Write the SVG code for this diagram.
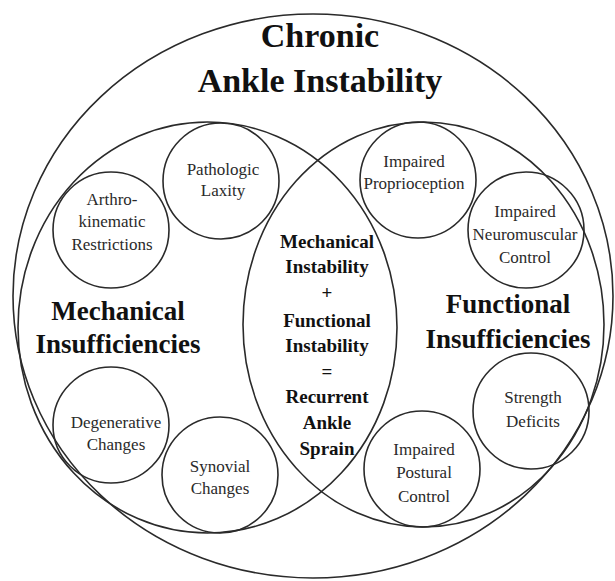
<svg xmlns="http://www.w3.org/2000/svg" width="615" height="581" viewBox="0 0 615 581">
<style>
.ring{fill:none;stroke:#2a2a2a;stroke-width:1.6}
.big{font-weight:bold;fill:#111;text-anchor:middle}
.sm{font-size:17px;fill:#2a2a2a;text-anchor:middle}
.mid{font-weight:bold;font-size:19px;fill:#111;text-anchor:middle}
</style>
<rect width="615" height="581" fill="#fff"/>
<g font-family="Liberation Serif, DejaVu Serif, Times New Roman, serif">
<g id="chronic-ankle-instability">
<ellipse class="ring" cx="313" cy="296" rx="300" ry="282"/>
<text class="big" x="320" y="47" font-size="34">Chronic</text>
<text class="big" x="320" y="92" font-size="34">Ankle Instability</text>
</g>
<g id="mechanical-insufficiencies">
<ellipse class="ring" cx="207.5" cy="327.5" rx="189.5" ry="205.5"/>
<text class="big" x="118" y="320" font-size="27">Mechanical</text>
<text class="big" x="118" y="353" font-size="27">Insufficiencies</text>
</g>
<g id="functional-insufficiencies">
<ellipse class="ring" cx="423.5" cy="324.5" rx="180.5" ry="202.5"/>
<text class="big" x="508" y="313" font-size="27">Functional</text>
<text class="big" x="508" y="348" font-size="27">Insufficiencies</text>
</g>
<g id="overlap">
<text class="mid" x="327" y="248">Mechanical</text>
<text class="mid" x="327" y="273">Instability</text>
<text class="mid" x="327" y="299">+</text>
<text class="mid" x="327" y="327">Functional</text>
<text class="mid" x="327" y="352">Instability</text>
<text class="mid" x="327" y="378">=</text>
<text class="mid" x="327" y="403">Recurrent</text>
<text class="mid" x="327" y="429">Ankle</text>
<text class="mid" x="327" y="455">Sprain</text>
</g>
<g id="pathologic-laxity">
<circle class="ring" cx="221" cy="181" r="58"/>
<text class="sm" x="223" y="175">Pathologic</text>
<text class="sm" x="223" y="196">Laxity</text>
</g>
<g id="arthrokinematic-restrictions">
<circle class="ring" cx="111" cy="230" r="58"/>
<text class="sm" x="112" y="205">Arthro-</text>
<text class="sm" x="112" y="227">kinematic</text>
<text class="sm" x="112" y="250">Restrictions</text>
</g>
<g id="degenerative-changes">
<circle class="ring" cx="111" cy="425" r="58"/>
<text class="sm" x="116" y="428">Degenerative</text>
<text class="sm" x="116" y="450">Changes</text>
</g>
<g id="synovial-changes">
<circle class="ring" cx="220" cy="475" r="58"/>
<text class="sm" x="220" y="472">Synovial</text>
<text class="sm" x="220" y="494">Changes</text>
</g>
<g id="impaired-proprioception">
<circle class="ring" cx="418" cy="180" r="58"/>
<text class="sm" x="414" y="167">Impaired</text>
<text class="sm" x="414" y="189">Proprioception</text>
</g>
<g id="impaired-neuromuscular-control">
<circle class="ring" cx="526" cy="230" r="58"/>
<text class="sm" x="525" y="217">Impaired</text>
<text class="sm" x="525" y="240">Neuromuscular</text>
<text class="sm" x="525" y="263">Control</text>
</g>
<g id="strength-deficits">
<circle class="ring" cx="531" cy="411" r="58"/>
<text class="sm" x="533" y="403">Strength</text>
<text class="sm" x="533" y="427">Deficits</text>
</g>
<g id="impaired-postural-control">
<circle class="ring" cx="422" cy="469" r="58"/>
<text class="sm" x="424" y="455">Impaired</text>
<text class="sm" x="424" y="478">Postural</text>
<text class="sm" x="424" y="502">Control</text>
</g>
</g>
<g id="connectors"></g>
</svg>
